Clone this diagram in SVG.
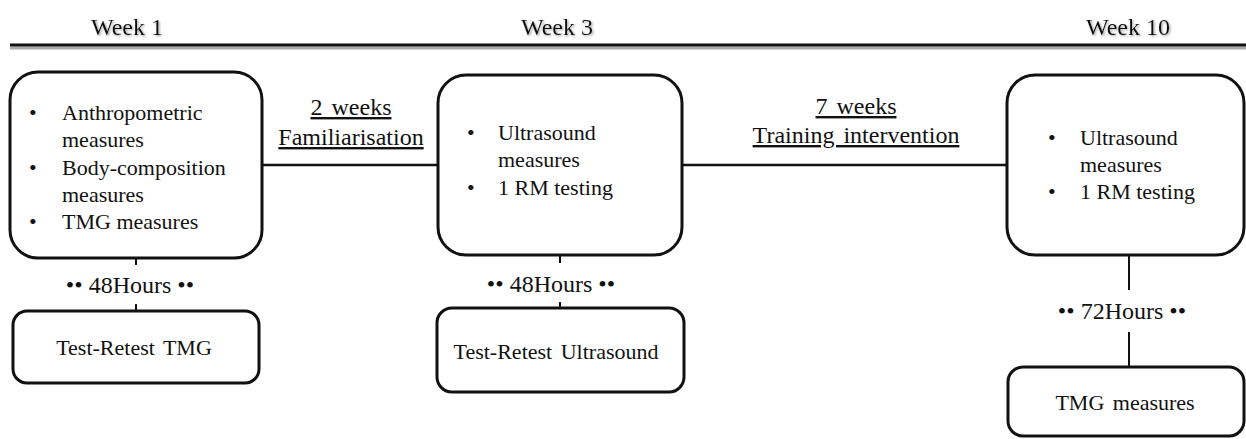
<svg xmlns="http://www.w3.org/2000/svg" width="1246" height="439" viewBox="0 0 1246 439" font-family="'Liberation Serif', Tinos, 'Times New Roman', 'DejaVu Serif', serif">
  <defs>
    <filter id="sh" x="-10%" y="-30%" width="120%" height="160%">
      <feDropShadow dx="1.2" dy="1.2" stdDeviation="0.8" flood-color="#888" flood-opacity="0.8"/>
    </filter>
  </defs>
  <style>
    text { font-family: 'Liberation Serif', Tinos, 'Times New Roman', 'DejaVu Serif', serif; fill: #111; }
    .wk { font-size: 24px; text-anchor: middle; }
    .box { fill: #fff; stroke: #111; stroke-width: 3; }
    .t { font-size: 22px; }
    .c { font-size: 22px; text-anchor: middle; word-spacing: 3px; }
    .lbl { font-size: 24px; text-anchor: middle; text-decoration: underline; word-spacing: 3px; }
    .hr { font-size: 24px; text-anchor: middle; }
    .ln { stroke: #111; stroke-width: 2.5; fill: none; }
    .vl { stroke: #111; stroke-width: 2; fill: none; }
  </style>

  <g id="timeline">
    <line x1="10" y1="48" x2="1246" y2="48" stroke="#aaa" stroke-width="3"/>
    <line x1="10" y1="45" x2="1246" y2="45" stroke="#111" stroke-width="3"/>
    <text class="wk" x="127" y="35" filter="url(#sh)">Week 1</text>
    <text class="wk" x="557" y="35" filter="url(#sh)">Week 3</text>
    <text class="wk" x="1128" y="35" filter="url(#sh)">Week 10</text>
  </g>

  <g id="connectors">
    <line class="ln" x1="262" y1="165" x2="438" y2="165"/>
    <line class="ln" x1="682" y1="165" x2="1008" y2="165"/>
    <line class="vl" x1="136" y1="258" x2="136" y2="265"/>
    <line class="vl" x1="136" y1="304" x2="136" y2="311"/>
    <line class="vl" x1="560" y1="255" x2="560" y2="263"/>
    <line class="vl" x1="560" y1="302" x2="560" y2="308"/>
    <line class="vl" x1="1129" y1="255" x2="1129" y2="290"/>
    <line class="vl" x1="1129" y1="332" x2="1129" y2="367"/>
    <text class="lbl" x="351" y="115">2 weeks</text>
    <text class="lbl" x="351" y="145">Familiarisation</text>
    <text class="lbl" x="856" y="114">7 weeks</text>
    <text class="lbl" x="856" y="143">Training intervention</text>
    <text class="hr" x="130" y="293">•• 48Hours ••</text>
    <text class="hr" x="551" y="292">•• 48Hours ••</text>
    <text class="hr" x="1122" y="319">•• 72Hours ••</text>
  </g>

  <g id="node-week1">
    <rect class="box" x="10" y="72" width="252" height="186" rx="28"/>
    <text class="t" x="29" y="120">•</text>
    <text class="t" x="62" y="120">Anthropometric</text>
    <text class="t" x="62" y="147">measures</text>
    <text class="t" x="29" y="175">•</text>
    <text class="t" x="62" y="175">Body-composition</text>
    <text class="t" x="62" y="202">measures</text>
    <text class="t" x="29" y="229">•</text>
    <text class="t" x="62" y="229">TMG measures</text>
  </g>

  <g id="node-retest-tmg">
    <rect class="box" x="13" y="311" width="246" height="72" rx="14"/>
    <text class="c" x="134" y="355">Test-Retest TMG</text>
  </g>

  <g id="node-week3">
    <rect class="box" x="438" y="75" width="244" height="180" rx="28"/>
    <text class="t" x="467" y="140">•</text>
    <text class="t" x="498" y="140">Ultrasound</text>
    <text class="t" x="498" y="167">measures</text>
    <text class="t" x="467" y="195">•</text>
    <text class="t" x="498" y="195">1 RM testing</text>
  </g>

  <g id="node-retest-us">
    <rect class="box" x="437" y="308" width="247" height="84" rx="15"/>
    <text class="c" x="556" y="359">Test-Retest Ultrasound</text>
  </g>

  <g id="node-week10">
    <rect class="box" x="1007" y="75" width="237" height="180" rx="28"/>
    <text class="t" x="1048" y="145">•</text>
    <text class="t" x="1080" y="145">Ultrasound</text>
    <text class="t" x="1080" y="172">measures</text>
    <text class="t" x="1048" y="199">•</text>
    <text class="t" x="1080" y="199">1 RM testing</text>
  </g>

  <g id="node-tmg">
    <rect class="box" x="1008" y="367" width="236" height="69" rx="15"/>
    <text class="c" x="1125" y="410">TMG measures</text>
  </g>
</svg>
